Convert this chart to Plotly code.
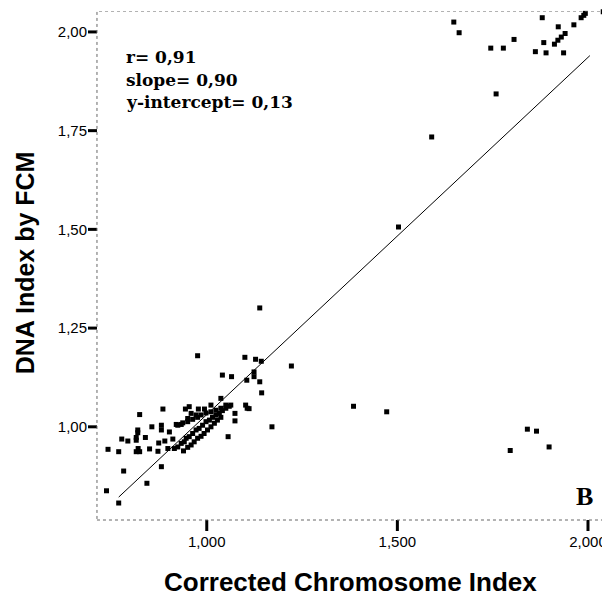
import plotly.graph_objects as go

# Scatter data: corrected chromosome index (x) vs DNA index by FCM (y)
cci = [
    1.648, 1.662, 1.745, 1.778, 1.806, 1.759, 1.880, 1.922, 1.940, 1.963,
    1.884, 1.862, 1.890, 1.912, 1.921, 1.930, 1.936, 1.982, 1.989, 1.993, 2.040,
    1.590, 1.503, 1.139, 1.385, 1.472, 1.841, 1.865, 1.796, 1.898,
    1.222, 1.171, 1.144, 1.139, 1.124, 1.124, 1.128, 1.143, 1.100, 1.105, 1.111,
    0.976, 1.041, 1.065, 1.037, 1.102, 1.106, 1.074, 1.074, 1.056,
    0.824, 0.885, 0.944, 0.978, 0.994, 1.011, 0.954, 0.959, 0.972, 0.950,
    0.933, 0.920, 0.902, 0.881, 0.881, 0.856, 0.839, 0.819, 0.819, 0.815,
    0.815, 0.820, 0.815, 0.824, 0.793, 0.777, 0.741, 0.769, 0.850, 0.872,
    0.874, 0.890, 0.911, 0.898, 0.915, 0.782, 0.881, 0.843, 0.737, 0.769,
    0.924, 0.933, 0.941, 0.946, 0.954, 0.963, 0.972, 0.980, 0.989, 0.998,
    1.007, 1.015, 1.024, 1.033, 1.041, 1.050, 1.059,
    0.939, 0.950, 0.959, 0.967, 0.976, 0.985, 0.993, 1.002, 1.011, 1.020,
    1.028, 1.037,
    0.924, 0.937, 0.950, 0.963, 0.976, 0.985, 0.998, 1.011, 1.024, 1.037,
    1.050, 1.063,
]
dna = [
    2.025, 1.998, 1.959, 1.959, 1.981, 1.843, 2.036, 2.013, 1.996, 2.018,
    1.973, 1.950, 1.947, 1.969, 1.979, 1.987, 1.947, 2.036, 2.042, 2.047, 2.051,
    1.734, 1.506, 1.301, 1.052, 1.038, 0.994, 0.989, 0.940, 0.949,
    1.154, 1.000, 1.086, 1.114, 1.139, 1.127, 1.171, 1.166, 1.176, 1.118, 1.046,
    1.180, 1.131, 1.127, 1.072, 1.055, 1.047, 1.034, 1.015, 0.975,
    1.031, 1.045, 1.045, 1.045, 1.045, 1.055, 1.051, 1.034, 1.030, 1.021,
    1.006, 1.006, 0.987, 1.004, 0.992, 1.000, 0.973, 0.992, 0.985, 0.973,
    0.966, 0.945, 0.937, 0.937, 0.964, 0.969, 0.943, 0.937, 0.944, 0.938,
    0.959, 0.964, 0.969, 0.945, 0.945, 0.888, 0.899, 0.857, 0.838, 0.807,
    0.949, 0.958, 0.962, 0.971, 0.975, 0.983, 0.992, 0.996, 1.004, 1.013,
    1.017, 1.024, 1.030, 1.034, 1.041, 1.047, 1.052,
    0.939, 0.948, 0.954, 0.962, 0.971, 0.976, 0.983, 0.992, 1.000, 1.009,
    1.017, 1.024,
    1.004, 1.010, 1.013, 1.019, 1.024, 1.030, 1.035, 1.038, 1.042, 1.047,
    1.055, 1.055,
]

# Fitted line endpoints
fit_x = [0.769, 2.005]
fit_y = [0.822, 1.940]

x_ticks = [1.0, 1.5, 2.0]
x_tick_labels = ["1,000", "1,500", "2,000"]
y_ticks = [1.00, 1.25, 1.50, 1.75, 2.00]
y_tick_labels = ["1,00", "1,25", "1,50", "1,75", "2,00"]

stats_lines = ["r= 0,91", "slope= 0,90", "y-intercept= 0,13"]
panel_label = "B"
x_title = "Corrected Chromosome Index"
y_title = "DNA Index by FCM"

# Frame (data window) and tick geometry
X_FRAME = [0.712, 2.042]
Y_FRAME = [0.764, 2.053]
FRAME_PX = 509          # frame size in pixels (square)
XTICK_LEN = 11
YTICK_LEN = 9

x_ppu = FRAME_PX / (X_FRAME[1] - X_FRAME[0])
y_ppu = FRAME_PX / (Y_FRAME[1] - Y_FRAME[0])
# plot area extended so the tick marks sit inside it
X_RANGE = [X_FRAME[0] - YTICK_LEN / x_ppu, X_FRAME[1]]
Y_RANGE = [Y_FRAME[0] - XTICK_LEN / y_ppu, Y_FRAME[1]]
PLOT_W = FRAME_PX + YTICK_LEN
PLOT_H = FRAME_PX + XTICK_LEN

FIG_W, FIG_H = 602, 592
M_L, M_T = 80, 3
M_R = FIG_W - M_L - PLOT_W
M_B = FIG_H - M_T - PLOT_H


def px(fig_x):
    return (fig_x - M_L) / PLOT_W


def py(fig_y):
    return (M_T + PLOT_H - fig_y) / PLOT_H


fig = go.Figure()
fig.add_trace(go.Scatter(
    x=fit_x, y=fit_y, mode="lines",
    line=dict(color="black", width=1), hoverinfo="skip", showlegend=False,
))
fig.add_trace(go.Scatter(
    x=cci, y=dna, mode="markers",
    marker=dict(symbol="square", size=5, color="black"),
    cliponaxis=False, showlegend=False,
))

# tick marks: short segments from the frame edge outwards
tx, ty = [], []
for v in x_ticks:
    tx += [v, v, None]
    ty += [Y_FRAME[0], Y_RANGE[0], None]
for v in y_ticks:
    tx += [X_FRAME[0], X_RANGE[0], None]
    ty += [v, v, None]
fig.add_trace(go.Scatter(
    x=tx, y=ty, mode="lines", line=dict(color="black", width=3),
    hoverinfo="skip", showlegend=False,
))

serif = "DejaVu Serif, Liberation Serif, serif"
stats_fig_y = [49, 72, 94]
annotations = [
    dict(text="<b>" + s + "</b>", xref="paper", yref="paper", x=px(116), y=py(yy),
         xanchor="left", yanchor="middle", align="left", showarrow=False,
         font=dict(family=serif, size=17, color="black"))
    for s, yy in zip(stats_lines, stats_fig_y)
]
annotations += [
    dict(text="<b>" + panel_label + "</b>", xref="paper", yref="paper", x=px(578), y=py(488),
         xanchor="center", yanchor="middle", showarrow=False,
         font=dict(family="Liberation Serif, serif", size=26, color="black")),
    dict(text="<b>" + x_title + "</b>", xref="paper", yref="paper", x=px(344), y=py(574),
         xanchor="center", yanchor="middle", showarrow=False,
         font=dict(size=26, color="black")),
    dict(text="<b>" + y_title + "</b>", xref="paper", yref="paper", x=px(17), y=py(255),
         xanchor="center", yanchor="middle", showarrow=False, textangle=-90,
         font=dict(size=25, color="black")),
]

shapes = [dict(
    type="rect", xref="x", yref="y",
    x0=X_FRAME[0], x1=X_FRAME[1], y0=Y_FRAME[0], y1=Y_FRAME[1],
    line=dict(color="#666", width=1, dash="dot"),
)]

fig.update_layout(
    width=FIG_W, height=FIG_H,
    margin=dict(l=M_L, r=M_R, t=M_T, b=M_B),
    paper_bgcolor="white", plot_bgcolor="white",
    font=dict(family="Liberation Sans, Arial, sans-serif", color="black"),
    xaxis=dict(
        range=X_RANGE, tickvals=x_ticks, ticktext=x_tick_labels,
        ticks="", showgrid=False, zeroline=False, showline=False,
        tickfont=dict(size=15),
    ),
    yaxis=dict(
        range=Y_RANGE, tickvals=y_ticks, ticktext=y_tick_labels,
        ticks="", showgrid=False, zeroline=False, showline=False,
        tickfont=dict(size=15),
    ),
    shapes=shapes,
    annotations=annotations,
)

fig.write_html("out.html")
